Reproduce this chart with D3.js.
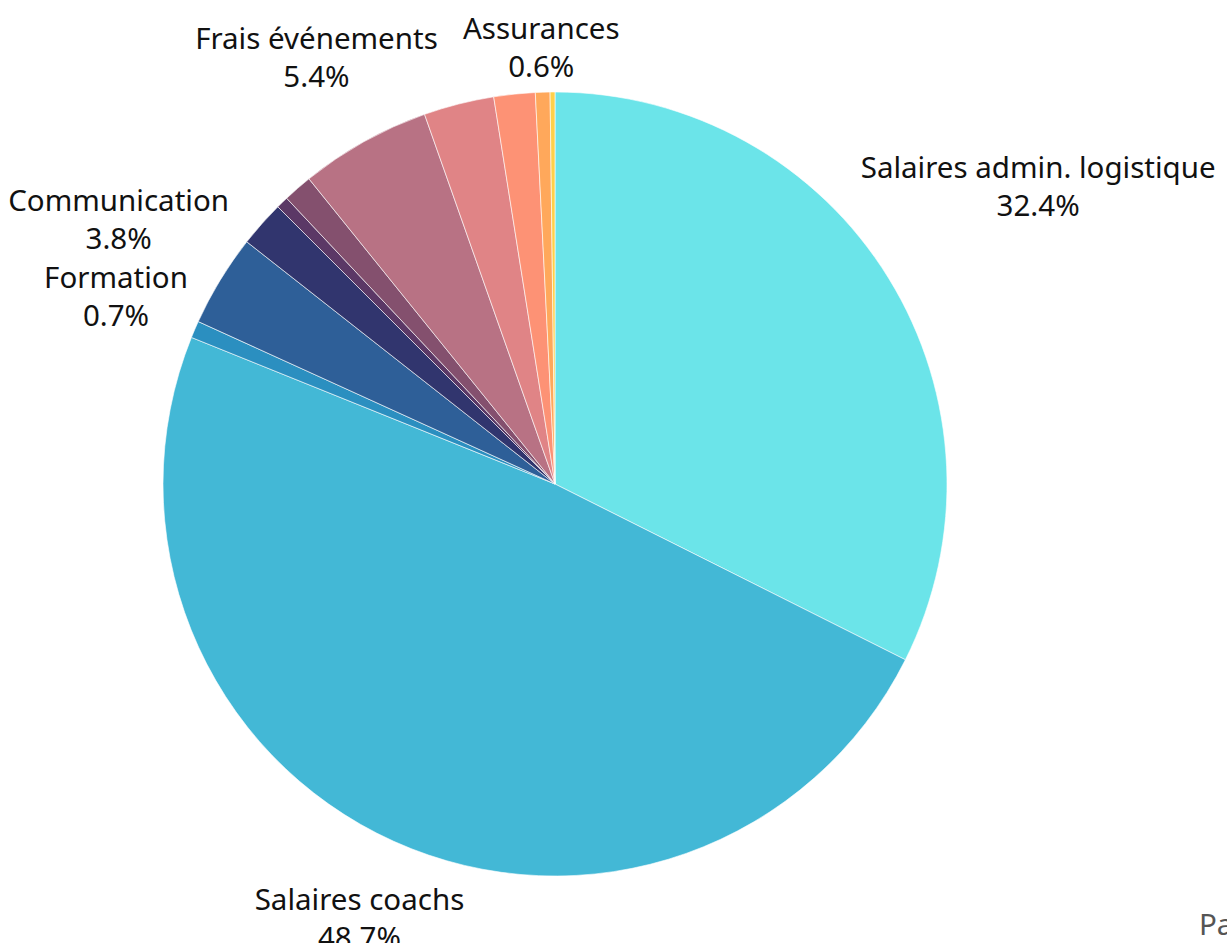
<!DOCTYPE html>
<html>
<head>
<meta charset="utf-8">
<script src="https://cdn.jsdelivr.net/npm/d3@7"></script>
<style>
  body { margin: 0; background: #fff; }
  svg { display: block; font-family: "Noto Sans", sans-serif; }
</style>
</head>
<body>
<svg></svg>
<script>
// budget split, clockwise from 12 o'clock
let categories = ['Salaires admin. logistique', 'Salaires coachs', 'Formation', 'Communication',
                  'Matériel', 'Frais bancaires', 'Déplacements', 'Frais événements',
                  'Location salles', 'Licences', 'Assurances', 'Divers'];
let shares = [32.4, 48.7, 0.7, 3.8, 1.9, 0.5, 1.2, 5.4, 2.9, 1.7, 0.6, 0.2];
let colors = ['#6be4e9', '#43b8d6', '#2b8fc0', '#2e5f98', '#31356e', '#5b3866',
              '#84506e', '#b87284', '#e08486', '#fd9275', '#ffa85b', '#ffd04a'];
// only these got a label in the original
let labelled = ['Salaires admin. logistique', 'Salaires coachs', 'Formation',
                'Communication', 'Frais événements', 'Assurances'];

let svgWidth = 1227,
    svgHeight = 943;

let svg = d3.select('svg')
            .attr('width', svgWidth)
            .attr('height', svgHeight);

let cx = 555, cy = 484, radius = 392;

let data = categories.map((c, i) => ({ name: c, value: shares[i], color: colors[i] }));

let pie = d3.pie().sort(null).value(d => d.value);
let arc = d3.arc().innerRadius(0).outerRadius(radius);
let arcs = pie(data);

let g = svg.append('g').attr('transform', `translate(${cx},${cy})`);

g.selectAll('path')
 .data(arcs)
 .enter().append('path')
 .attr('d', arc)
 .attr('fill', d => d.data.color)
 .attr('stroke', '#fff')
 .attr('stroke-width', 0.6);

let fmt = d3.format('.1f');
let lineGap = 38;

let labels = g.selectAll('g.lbl')
  .data(arcs.filter(d => labelled.includes(d.data.name)))
  .enter().append('g')
  .attr('class', 'lbl');

labels.append('text')
  .attr('text-anchor', 'middle')
  .attr('font-size', 29.5)
  .attr('fill', '#111')
  .each(function (d) {
    let t = d3.select(this);
    t.append('tspan').attr('x', 0).attr('y', -lineGap / 2 + 10).text(d.data.name);
    t.append('tspan').attr('x', 0).attr('y', lineGap / 2 + 10).text(fmt(d.data.value) + '%');
  });

// push each label box out along its mid-angle until it clears the pie
labels.attr('transform', function (d) {
  let bb = this.getBBox();
  let a = (d.startAngle + d.endAngle) / 2;
  let ux = Math.sin(a), uy = -Math.cos(a);
  let hw = bb.width / 2, hh = bb.height / 2;
  let r = radius + 4 + hw * Math.abs(ux) + hh * Math.abs(uy);
  let ox = bb.x + hw, oy = bb.y + hh;
  return `translate(${r * ux - ox},${r * uy - oy})`;
});

// cut-off text at the bottom right corner
svg.append('text')
   .attr('x', 1199)
   .attr('y', 935)
   .attr('font-size', 29.5)
   .attr('fill', '#555')
   .text('Part des dépenses');
</script>
</body>
</html>
